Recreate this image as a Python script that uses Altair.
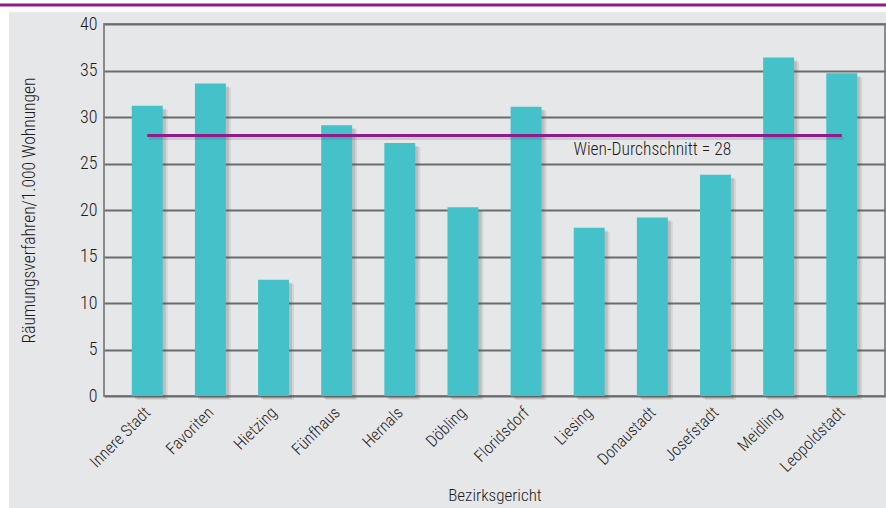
import altair as alt
import pandas as pd

# Eviction proceedings per 1,000 dwellings by district court
districts = ["Innere Stadt", "Favoriten", "Hietzing", "Fünfhaus", "Hernals", "Döbling",
             "Floridsdorf", "Liesing", "Donaustadt", "Josefstadt", "Meidling", "Leopoldstadt"]
rates = [31.2, 33.6, 12.5, 29.1, 27.2, 20.3, 31.1, 18.1, 19.2, 23.8, 36.4, 34.7]
vienna_avg = 28
avg_label = "Wien-Durchschnitt = 28"
y_ticks = [0, 5, 10, 15, 20, 25, 30, 35, 40]

FONT = "Liberation Sans Narrow, Roboto Condensed, Arial Narrow, sans-serif"
WEIGHT = 300
TEAL = "#45c1c9"
PURPLE = "#8c1d8b"
GRID = "#6b6c6e"
BG = "#e6e7e8"
INK = "#1f1c1d"

W, H = 781, 372
PAD = {"left": 104, "top": 24, "right": 1, "bottom": 112}

bars = pd.DataFrame({"district": districts, "rate": rates})
avg = pd.DataFrame({"district": [districts[0], districts[-1]], "rate": [vienna_avg] * 2})
label = pd.DataFrame({"district": ["Donaustadt"], "rate": [26.5], "text": [avg_label]})

x_enc = alt.X(
    "district:N", sort=districts, title="Bezirksgericht",
    scale=alt.Scale(paddingInner=0.51, paddingOuter=0.44),
    axis=alt.Axis(labelAngle=-45, labelFontSize=16.5, labelColor=INK, labelFont=FONT,
                  labelFontWeight=WEIGHT, ticks=False, domain=False, labelPadding=8,
                  labelOffset=-5,
                  titleFont=FONT, titleFontSize=17, titleFontWeight=WEIGHT,
                  titleColor=INK, titleY=99, titleBaseline="middle"),
)
y_scale = alt.Scale(domain=[0, 40], nice=False)

one = pd.DataFrame({"k": [0]})
# page decoration: white margins around the gray panel, purple rule across the top
white_top = alt.Chart(one).mark_rect(color="white", clip=False).encode(
    x=alt.value(-PAD["left"]), x2=alt.value(886 - PAD["left"]),
    y=alt.value(-PAD["top"]), y2=alt.value(12 - PAD["top"]),
)
white_left = alt.Chart(one).mark_rect(color="white", clip=False).encode(
    x=alt.value(-PAD["left"]), x2=alt.value(9 - PAD["left"]),
    y=alt.value(-PAD["top"]), y2=alt.value(508 - PAD["top"]),
)
top_rule = alt.Chart(one).mark_rule(color=PURPLE, strokeWidth=3, clip=False).encode(
    x=alt.value(-PAD["left"]), x2=alt.value(886 - PAD["left"]), y=alt.value(5 - PAD["top"]),
)

base = alt.Chart(bars)

shadow = base.mark_bar(color="#555555", opacity=0.18, xOffset=3, yOffset=3).encode(
    x=x_enc,
    y=alt.Y("rate:Q", scale=y_scale),
)
shadow2 = base.mark_bar(color="#555555", opacity=0.12, xOffset=5, yOffset=4).encode(
    x=x_enc,
    y=alt.Y("rate:Q", scale=y_scale),
)

bar = base.mark_bar(color=TEAL).encode(
    x=x_enc,
    y=alt.Y(
        "rate:Q", scale=y_scale, title="Räumungsverfahren/1.000 Wohnungen",
        axis=alt.Axis(values=y_ticks, labelFontSize=18, labelColor=INK, labelFont=FONT,
                      labelFontWeight=WEIGHT, ticks=False, domain=False, labelPadding=7,
                      grid=True, gridColor=GRID, gridWidth=2,
                      titleFont=FONT, titleFontSize=17.5, titleFontWeight=WEIGHT,
                      titleColor=INK, titleX=-75, titleBaseline="middle"),
    ),
)

avg_shadow = alt.Chart(avg).mark_line(color="#555555", strokeWidth=3, opacity=0.2,
                                      xOffset=2, yOffset=3).encode(
    x=alt.X("district:N", sort=districts), y=alt.Y("rate:Q", scale=y_scale),
)
avg_line = alt.Chart(avg).mark_line(color=PURPLE, strokeWidth=3).encode(
    x=alt.X("district:N", sort=districts), y=alt.Y("rate:Q", scale=y_scale),
)

avg_text = alt.Chart(label).mark_text(
    font=FONT, fontSize=17.5, fontWeight=WEIGHT, color=INK, align="center", baseline="middle"
).encode(
    x=alt.X("district:N", sort=districts), y=alt.Y("rate:Q", scale=y_scale), text="text:N",
)

chart = alt.layer(
    shadow2, shadow, bar, avg_shadow, avg_line, avg_text, white_top, white_left, top_rule
).properties(
    width=W, height=H, padding=PAD, autosize=alt.AutoSizeParams(type="none"),
    background=BG,
).configure_view(
    stroke="#8a8b8d", strokeWidth=2,
)

chart.save("out.html", embed_options={"renderer": "svg", "actions": False})
